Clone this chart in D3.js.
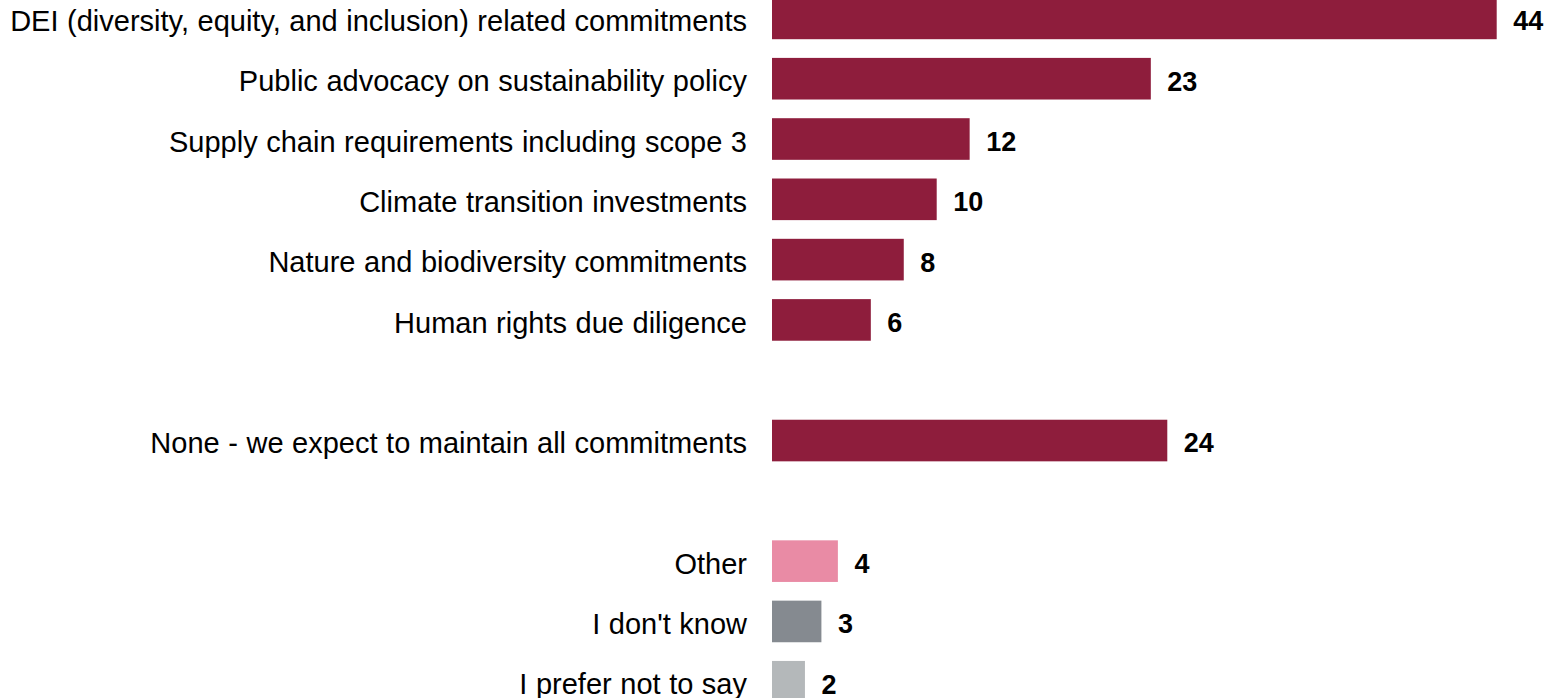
<!DOCTYPE html>
<html>
<head>
<meta charset="utf-8">
<script src="https://cdn.jsdelivr.net/npm/d3@7"></script>
<style>
  html, body { margin: 0; padding: 0; background: #fff; }
  svg { display: block; }
</style>
</head>
<body>
<svg id="chart" width="1544" height="698"></svg>
<script>
// Response categories, top to bottom (empty strings are spacer rows)
const categories = [
  "DEI (diversity, equity, and inclusion) related commitments",
  "Public advocacy on sustainability policy",
  "Supply chain requirements including scope 3",
  "Climate transition investments",
  "Nature and biodiversity commitments",
  "Human rights due diligence",
  "",
  "None - we expect to maintain all commitments",
  "",
  "Other",
  "I don't know",
  "I prefer not to say"
];
// Share of respondents (%) for each row; null for spacer rows
const values = [44, 23, 12, 10, 8, 6, null, 24, null, 4, 3, 2];
// Colour group of each row
const groups = ["main", "main", "main", "main", "main", "main", null, "main", null, "other", "dontknow", "prefer"];

const colorFor = {
  main: "#8e1d3c",
  other: "#e98ba5",
  dontknow: "#858a90",
  prefer: "#b4b8ba"
};

const rows = categories.map((c, i) => ({ key: "r" + i, label: c, value: values[i], group: groups[i] }));

const svg = d3.select("#chart");
const xLeft = 772;

const x = d3.scaleLinear().domain([0, 44]).range([xLeft, 1496.7]);

const y = d3.scaleBand()
  .domain(rows.map(d => d.key))
  .range([-11.75, 711.9])
  .paddingInner(0.31)
  .paddingOuter(0.155);

const data = rows.filter(d => d.value !== null);
const mid = d => y(d.key) + y.bandwidth() / 2 + 2.5;

svg.append("g").selectAll("rect")
  .data(data)
  .join("rect")
  .attr("x", x(0))
  .attr("y", d => y(d.key))
  .attr("width", d => x(d.value) - x(0))
  .attr("height", y.bandwidth())
  .attr("fill", d => colorFor[d.group]);

svg.append("g").selectAll("text")
  .data(data)
  .join("text")
  .attr("x", 747)
  .attr("y", mid)
  .attr("dy", "0.35em")
  .attr("text-anchor", "end")
  .attr("font-family", "Liberation Sans, Arial, sans-serif")
  .attr("font-size", 29)
  .attr("word-spacing", 0.5)
  .attr("fill", "#000")
  .text(d => d.label);

svg.append("g").selectAll("text")
  .data(data)
  .join("text")
  .attr("x", d => x(d.value) + 16.5)
  .attr("y", mid)
  .attr("dy", "0.35em")
  .attr("font-family", "Liberation Sans, Arial, sans-serif")
  .attr("font-size", 27)
  .attr("font-weight", "bold")
  .attr("fill", "#000")
  .text(d => d.value);
</script>
</body>
</html>
